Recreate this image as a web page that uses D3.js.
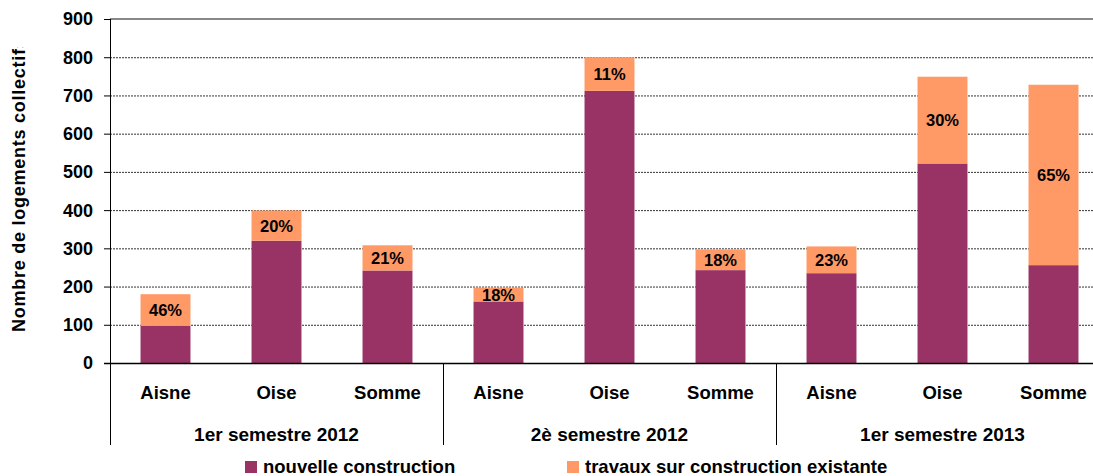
<!DOCTYPE html>
<html>
<head>
<meta charset="utf-8">
<script src="https://cdn.jsdelivr.net/npm/d3@7"></script>
<style>
  body { margin: 0; background: #fff; }
  svg { display: block; font-family: "Liberation Sans", Arial, sans-serif; font-weight: bold; }
</style>
</head>
<body>
<div id="chart"></div>
<script>
/* DATA */
const groups = ["1er semestre 2012", "2è semestre 2012", "1er semestre 2013"];
const departements = ["Aisne", "Oise", "Somme"];
// logements collectifs, dans l'ordre groupe x département
const nouvelle = [97, 320, 242, 161, 712, 243, 235, 522, 256];
const existante = [83, 79, 66, 36, 88, 54, 70, 227, 472];
const yTicks = [0, 100, 200, 300, 400, 500, 600, 700, 800, 900];
const seriesNames = ["nouvelle construction", "travaux sur construction existante"];

/* CONSTANTS */
const width = 1093,
  height = 476,
  margin = { top: 19, left: 110, right: -16, bottom: 113 };
const colors = ["#993366", "#FF9966"];
const formatPercent = d3.format(".0%");

const rows = [];
groups.forEach((g, gi) => {
  departements.forEach((d, di) => {
    const i = gi * departements.length + di;
    rows.push({ key: g + "|" + d, group: g, dep: d, nouvelle: nouvelle[i], existante: existante[i] });
  });
});

const svg = d3.select("#chart")
  .append("svg")
  .attr("width", width)
  .attr("height", height);

const xScale = d3.scaleBand()
  .domain(rows.map(d => d.key))
  .range([margin.left, width - margin.right])
  .paddingInner(0.55)
  .paddingOuter(0.275);

const yScale = d3.scaleLinear()
  .domain([0, 900])
  .range([height - margin.bottom, margin.top]);

const x0 = margin.left, x1 = width - margin.right, yBase = yScale(0);

// gridlines
svg.append("g")
  .selectAll("line")
  .data(yTicks.filter(t => t > 0 && t < 900))
  .join("line")
  .attr("x1", x0).attr("x2", x1)
  .attr("y1", d => yScale(d) + 0.5).attr("y2", d => yScale(d) + 0.5)
  .attr("stroke", "#333")
  .attr("stroke-dasharray", "2,1");

// top border
svg.append("line")
  .attr("x1", x0).attr("x2", x1)
  .attr("y1", yScale(900)).attr("y2", yScale(900))
  .attr("stroke", "#888").attr("stroke-width", 2);

// stacked bars
const stack = d3.stack().keys(["nouvelle", "existante"])(rows);
svg.append("g")
  .selectAll("g")
  .data(stack)
  .join("g")
  .attr("fill", (d, i) => colors[i])
  .selectAll("rect")
  .data(d => d)
  .join("rect")
  .attr("x", d => xScale(d.data.key))
  .attr("width", xScale.bandwidth())
  .attr("y", d => yScale(d[1]))
  .attr("height", d => yScale(d[0]) - yScale(d[1]));

// percentage labels
svg.append("g")
  .selectAll("text")
  .data(stack[1])
  .join("text")
  .attr("x", d => xScale(d.data.key) + xScale.bandwidth() / 2)
  .attr("y", d => (yScale(d[0]) + yScale(d[1])) / 2)
  .attr("dy", "0.36em")
  .attr("text-anchor", "middle")
  .attr("font-size", 16.5)
  .attr("fill", "#000")
  .text(d => formatPercent(d.data.existante / (d.data.nouvelle + d.data.existante)));

// y axis
const yAxisG = svg.append("g");
yAxisG.append("line")
  .attr("x1", x0 + 0.5).attr("x2", x0 + 0.5)
  .attr("y1", yScale(900)).attr("y2", yBase + 82)
  .attr("stroke", "#000");
yAxisG.selectAll(".tick")
  .data(yTicks)
  .join("line")
  .attr("x1", x0 - 6).attr("x2", x0)
  .attr("y1", d => yScale(d) + 0.5).attr("y2", d => yScale(d) + 0.5)
  .attr("stroke", "#000");
yAxisG.selectAll("text")
  .data(yTicks)
  .join("text")
  .attr("x", 93)
  .attr("y", d => yScale(d))
  .attr("dy", "0.36em")
  .attr("text-anchor", "end")
  .attr("font-size", 18)
  .text(d => d);

// y title, clipped at the top like the original
svg.append("clipPath").attr("id", "ytclip")
  .append("rect").attr("x", 0).attr("y", 47).attr("width", 60).attr("height", 400);
svg.append("g")
  .attr("clip-path", "url(#ytclip)")
  .append("text")
  .attr("transform", `translate(25, 332) rotate(-90)`)
  .attr("font-size", 18)
  .attr("letter-spacing", 0.75)
  .text("Nombre de logements collectifs");

// x axis
svg.append("line")
  .attr("x1", x0 - 6).attr("x2", x1)
  .attr("y1", yBase + 0.5).attr("y2", yBase + 0.5)
  .attr("stroke", "#000").attr("stroke-width", 1.5);

svg.append("g")
  .selectAll("text")
  .data(rows)
  .join("text")
  .attr("x", d => xScale(d.key) + xScale.bandwidth() / 2)
  .attr("y", yBase + 29)
  .attr("dy", "0.36em")
  .attr("text-anchor", "middle")
  .attr("font-size", 18.5)
  .text(d => d.dep);

const groupStep = xScale.step() * departements.length;
svg.append("g")
  .selectAll("line")
  .data(groups.slice(1))
  .join("line")
  .attr("x1", (d, i) => Math.round(x0 + groupStep * (i + 1)) + 0.5)
  .attr("x2", (d, i) => Math.round(x0 + groupStep * (i + 1)) + 0.5)
  .attr("y1", yBase).attr("y2", yBase + 82)
  .attr("stroke", "#000");

svg.append("g")
  .selectAll("text")
  .data(groups)
  .join("text")
  .attr("x", (d, i) => x0 + groupStep * (i + 0.5))
  .attr("y", yBase + 71)
  .attr("dy", "0.36em")
  .attr("text-anchor", "middle")
  .attr("font-size", 19)
  .text(d => d);

// legend
const legendX = [245, 567];
const legend = svg.append("g")
  .selectAll("g")
  .data(seriesNames)
  .join("g")
  .attr("transform", (d, i) => `translate(${legendX[i]}, 461)`);
legend.append("rect")
  .attr("width", 12).attr("height", 12)
  .attr("fill", (d, i) => colors[i]);
legend.append("text")
  .attr("x", 18)
  .attr("y", 12)
  .attr("font-size", 18.5)
  .text(d => d);
</script>
</body>
</html>
